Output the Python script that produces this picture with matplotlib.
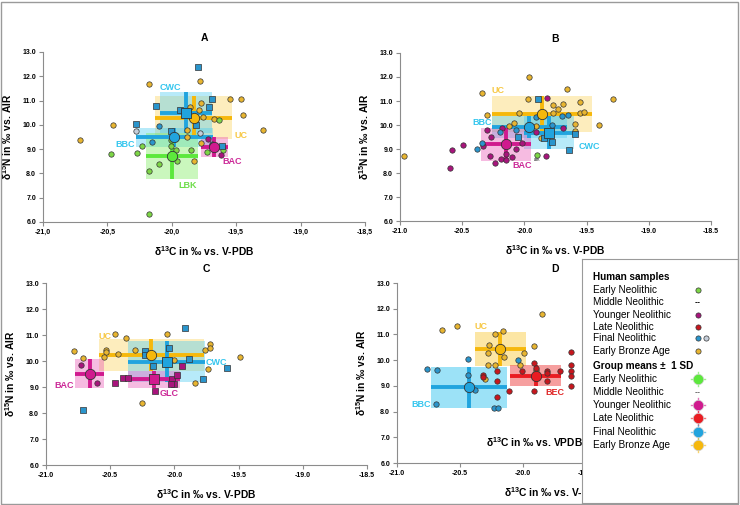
import numpy as np
import matplotlib
matplotlib.use("Agg")
import matplotlib.pyplot as plt
from matplotlib.patches import Rectangle
from matplotlib.ticker import FuncFormatter, MultipleLocator

plt.rcParams['font.family'] = ['Liberation Sans', 'DejaVu Sans']
plt.rcParams['mathtext.fontset'] = 'custom'
plt.rcParams['mathtext.rm'] = 'Liberation Sans:bold'
plt.rcParams['mathtext.it'] = 'Liberation Sans:bold'
plt.rcParams['mathtext.bf'] = 'Liberation Sans:bold'

# ---------------- panel A ----------------
A_UC_X = [-20.71, -20.46, -20.18, -19.78, -19.86, -19.77, -19.79, -19.76, -19.67, -19.55,
          -19.46, -19.45, -19.29, -19.88, -19.88, -19.77, -19.83]
A_UC_Y = [9.36, 10.00, 11.69, 11.80, 10.74, 10.88, 10.63, 10.33, 10.24, 11.06,
          11.06, 10.40, 9.77, 9.79, 9.51, 9.27, 8.50]
A_CWC_X = [-19.80, -20.12, -20.28, -19.94, -19.69, -19.71, -19.81, -20.01, -19.61]
A_CWC_Y = [12.37, 10.78, 10.03, 10.60, 11.08, 10.72, 9.99, 9.74, 9.14]
A_BBC_X = [-20.10, -20.15, -19.69]
A_BBC_Y = [9.96, 9.30, 9.21]
A_GREY_X = [-20.28, -19.78]
A_GREY_Y = [9.74, 9.68]
A_BAC_X = [-19.72, -19.62, -19.69]
A_BAC_Y = [9.40, 8.77, 9.17]
A_LBK_X = [-20.47, -20.27, -20.23, -20.18, -20.10, -20.01, -20.01, -19.97, -19.96,
           -19.85, -19.73, -19.63, -19.60, -20.18]
A_LBK_Y = [8.79, 8.85, 9.15, 8.08, 8.38, 9.12, 9.38, 8.98, 8.52,
           8.98, 8.87, 10.18, 8.96, 6.31]

A_GROUPS = ['uc', 'cwc', 'bbc', 'lbk', 'bac']
A_MX = [-19.83, -19.89, -19.98, -20.00, -19.67]
A_MY = [10.29, 10.50, 9.48, 8.73, 9.07]
A_SX = [0.30, 0.20, 0.30, 0.20, 0.105]
A_SY = [0.88, 0.85, 0.39, 0.95, 0.41]
A_LAB = ['CWC', 'UC', 'BBC', 'BAC', 'LBK']
A_LAB_X = [-20.01, -19.46, -20.36, -19.53, -19.88]
A_LAB_Y = [11.55, 9.58, 9.21, 8.51, 7.50]

# ---------------- panel B ----------------
B_UC_X = [-20.965, -20.34, -20.30, -19.96, -19.97, -20.04, -20.12, -20.08, -19.66, -19.77,
          -19.73, -19.69, -19.55, -19.77, -19.55, -19.52, -19.59, -19.59, -19.40, -19.29,
          -19.87, -19.91]
B_UC_Y = [8.72, 11.32, 10.41, 12.00, 11.10, 10.52, 9.97, 10.09, 11.52, 10.85,
          10.66, 10.87, 10.94, 10.51, 10.48, 10.55, 10.06, 9.76, 9.98, 11.07,
          9.44, 9.95]
B_BAC_X = [-20.60, -20.58, -20.49, -20.30, -20.27, -20.33, -20.28, -20.24, -20.19, -20.15,
           -20.10, -20.18, -20.07, -20.02, -19.91, -19.83, -19.82, -19.69, -20.15]
B_BAC_Y = [8.21, 8.96, 9.15, 9.79, 9.48, 9.12, 8.72, 8.40, 8.60, 8.56,
           8.68, 9.87, 8.98, 9.23, 9.70, 8.72, 11.14, 9.87, 8.80]
B_BBC_X = [-20.38, -20.34, -20.20, -20.07, -19.91, -19.70, -19.65, -19.78]
B_BBC_Y = [9.00, 9.23, 9.72, 9.79, 10.34, 10.37, 10.40, 10.00]
B_CWC_X = [-19.89, -20.05, -19.78, -19.64, -19.59, -19.84]
B_CWC_Y = [11.07, 9.51, 9.29, 8.94, 9.61, 9.44]
B_LBK_X = [-19.90]
B_LBK_Y = [8.73]

B_GROUPS = ['uc', 'bbc', 'cwc', 'bac']
B_MX = [-19.86, -19.96, -19.80, -20.15]
B_MY = [10.45, 9.92, 9.68, 9.20]
B_SX = [0.40, 0.30, 0.20, 0.20]
B_SY = [0.74, 0.47, 0.69, 0.68]
B_LAB = ['UC', 'BBC', 'CWC', 'BAC']
B_LAB_X = [-20.21, -20.34, -19.48, -20.02]
B_LAB_Y = [11.42, 10.09, 9.09, 8.31]

# ---------------- panel C ----------------
C_UC_X = [-20.78, -20.71, -20.53, -20.53, -20.55, -20.46, -20.44, -20.38, -20.31, -20.06,
          -20.00, -19.76, -19.72, -19.72, -19.74, -19.84, -19.49, -20.25]
C_UC_Y = [10.39, 10.11, 10.41, 10.34, 10.14, 11.05, 10.27, 10.89, 10.43, 11.05,
          10.05, 10.43, 10.66, 10.50, 9.71, 9.15, 10.15, 8.39]
C_CWC_X = [-20.71, -20.23, -20.23, -20.17, -20.04, -19.92, -19.89, -19.78, -19.59]
C_CWC_Y = [8.12, 10.37, 10.24, 9.82, 10.50, 11.27, 10.06, 9.30, 9.73]
C_GLC_X = [-20.46, -20.40, -20.36, -20.15, -20.02, -20.00, -19.98, -19.94, -20.03]
C_GLC_Y = [9.17, 9.34, 9.34, 8.85, 9.30, 9.11, 9.47, 9.79, 9.10]
C_BAC_X = [-20.73, -20.60]
C_BAC_Y = [9.86, 9.15]

C_GROUPS = ['uc', 'cwc', 'glc', 'bac']
C_MX = [-20.18, -20.06, -20.16, -20.66]
C_MY = [10.23, 9.98, 9.29, 9.51]
C_SX = [0.41, 0.30, 0.20, 0.115]
C_SY = [0.61, 0.80, 0.31, 0.55]
C_LAB = ['UC', 'BAC', 'GLC', 'CWC']
C_LAB_X = [-20.54, -20.86, -20.04, -19.67]
C_LAB_Y = [10.96, 9.05, 8.74, 9.96]

# ---------------- panel D ----------------
D_UC_X = [-20.64, -20.52, -20.22, -20.16, -20.27, -20.28, -20.15, -20.28, -20.22, -20.30,
          -19.99, -19.91, -19.85, -20.02, -19.90]
D_UC_Y = [11.18, 11.34, 11.01, 11.14, 10.59, 10.27, 10.14, 9.81, 9.81, 9.27,
          10.27, 10.56, 11.79, 9.81, 9.62]
D_BEC_X = [-20.32, -20.32, -20.21, -20.21, -20.21, -20.11, -20.01, -19.91, -19.91, -19.81,
           -19.81, -19.81, -19.71, -19.62, -19.62, -19.62, -19.62, -19.62, -19.90]
D_BEC_Y = [9.42, 9.33, 9.59, 9.19, 8.58, 8.80, 9.59, 9.90, 8.80, 9.59,
           9.49, 9.20, 9.59, 10.31, 9.81, 9.59, 9.38, 9.00, 9.70]
D_BBC_X = [-20.76, -20.68, -20.69, -20.44, -20.44, -20.38, -20.23, -20.20, -20.04]
D_BBC_Y = [9.66, 9.62, 8.29, 10.06, 9.41, 8.83, 8.14, 8.14, 10.01]

D_GROUPS = ['uc', 'bbc', 'bec']
D_MX = [-20.18, -20.43, -19.90]
D_MY = [10.43, 8.94, 9.40]
D_SX = [0.20, 0.30, 0.205]
D_SY = [0.66, 0.80, 0.405]
D_LAB = ['UC', 'BBC', 'BEC']
D_LAB_X = [-20.33, -20.81, -19.75]
D_LAB_Y = [11.31, 8.28, 8.73]

LEGEND_NAMES = ['Early Neolithic', 'Middle Neolithic', 'Younger Neolithic',
                'Late Neolithic', 'Final Neolithic', 'Early Bronze Age']

# colours: point fill, bar/mean colour, box fill, label colour
POINT_C = {'uc': '#E8B530', 'cwc': '#2A95CC', 'bbc': '#2A95CC', 'bac': '#A8147C',
           'glc': '#A8147C', 'lbk': '#7DD646', 'bec': '#C8161D', 'grey': '#C5CEDA'}
BAR_C = {'uc': '#F6B80C', 'cwc': '#21A4DE', 'bbc': '#21A4DE', 'bac': '#D01A8E',
         'glc': '#D01A8E', 'lbk': '#5CE83C', 'bec': '#EA1C22'}
BOX_C = {'uc': '#FAD25A', 'cwc': '#4CCBF2', 'bbc': '#4CCBF2', 'bac': '#EA55B5',
         'glc': '#EA55B5', 'lbk': '#7CEB5C', 'bec': '#F05050'}
LAB_C = {'UC': '#F7C845', 'CWC': '#35C6EE', 'BBC': '#35C6EE', 'BAC': '#CC2A98',
         'GLC': '#CC2A98', 'LBK': '#6EDD4A', 'BEC': '#E02828'}
MEAN_M = {'cwc': 's', 'glc': 's'}


def pts(ax, xs, ys, g, marker='o'):
    ax.scatter(xs, ys, s=15, marker=marker, c=POINT_C[g], edgecolors='#333333',
               linewidths=0.5, zorder=3)


def means(ax, groups, mx, my, sx, sy, alpha=0.4):
    for g, x, y, dx, dy in zip(groups, mx, my, sx, sy):
        ax.add_patch(Rectangle((x - dx, y - dy), 2 * dx, 2 * dy, facecolor=BOX_C[g],
                               alpha=alpha, edgecolor='none', zorder=1))
        ax.plot([x - dx, x + dx], [y, y], color=BAR_C[g], lw=2.8, zorder=2,
                solid_capstyle='butt')
        ax.plot([x, x], [y - dy, y + dy], color=BAR_C[g], lw=2.8, zorder=2,
                solid_capstyle='butt')
    for g, x, y in zip(groups, mx, my):
        ax.scatter([x], [y], s=55, marker=MEAN_M.get(g, 'o'), c=BAR_C[g],
                   edgecolors='#333333', linewidths=0.6, zorder=4)


def setup(ax, title, comma=False):
    ax.set_xlim(-21.0, -18.5)
    ax.set_ylim(6.0, 13.0)
    ax.xaxis.set_major_locator(MultipleLocator(0.5))
    ax.yaxis.set_major_locator(MultipleLocator(1.0))
    if comma:
        ax.xaxis.set_major_formatter(FuncFormatter(lambda v, p: f'{v:.1f}'.replace('.', ',')))
    else:
        ax.xaxis.set_major_formatter(FuncFormatter(lambda v, p: f'{v:.1f}'))
    ax.yaxis.set_major_formatter(FuncFormatter(lambda v, p: f'{v:.1f}'))
    for s in ['top', 'right']:
        ax.spines[s].set_visible(False)
    for s in ['left', 'bottom']:
        ax.spines[s].set_color('#8C8C8C')
        ax.spines[s].set_linewidth(0.8)
    ax.tick_params(colors='#8C8C8C', length=3, width=0.8, labelsize=5,
                   labelcolor='black', pad=2)
    for t in ax.get_xticklabels() + ax.get_yticklabels():
        t.set_fontweight('bold')
    ax.set_xlabel(r'δ$^{13}$C in ‰ vs. V-PDB', fontsize=7.4, fontweight='bold', labelpad=6)
    ax.set_ylabel(r'δ$^{15}$N in ‰ vs. AIR', fontsize=7.4, fontweight='bold', labelpad=6)
    ax.set_title(title, fontsize=7.5, fontweight='bold', pad=8)


def labels(ax, names, lx, ly):
    for n, x, y in zip(names, lx, ly):
        ax.text(x, y, n, color=LAB_C[n], fontsize=6.5, fontweight='bold',
                ha='center', va='center', zorder=5)


fig = plt.figure(figsize=(7.4, 5.05), dpi=100)
W, H = 740, 505


def axes_px(l, t, r, b):
    return fig.add_axes([l / W, 1 - b / H, (r - l) / W, (b - t) / H])


axA = axes_px(43, 52, 365, 222)
axB = axes_px(400, 53, 711, 221)
axC = axes_px(46, 283, 367, 465)
axD = axes_px(397, 283, 712, 463)

# A
setup(axA, 'A', comma=True)
means(axA, A_GROUPS, A_MX, A_MY, A_SX, A_SY)
pts(axA, A_UC_X, A_UC_Y, 'uc')
pts(axA, A_LBK_X, A_LBK_Y, 'lbk')
pts(axA, A_CWC_X, A_CWC_Y, 'cwc', 's')
pts(axA, A_BBC_X, A_BBC_Y, 'bbc')
pts(axA, A_GREY_X, A_GREY_Y, 'grey')
pts(axA, A_BAC_X, A_BAC_Y, 'bac')
labels(axA, A_LAB, A_LAB_X, A_LAB_Y)

# B
setup(axB, 'B')
means(axB, B_GROUPS, B_MX, B_MY, B_SX, B_SY)
pts(axB, B_UC_X, B_UC_Y, 'uc')
pts(axB, B_BAC_X, B_BAC_Y, 'bac')
pts(axB, B_BBC_X, B_BBC_Y, 'bbc')
pts(axB, B_CWC_X, B_CWC_Y, 'cwc', 's')
pts(axB, B_LBK_X, B_LBK_Y, 'lbk')
axB.text(B_LBK_X[0], B_LBK_Y[0] - 0.2, 'LBK', fontsize=2.5, ha='center', va='center')
labels(axB, B_LAB, B_LAB_X, B_LAB_Y)

# C
setup(axC, 'C')
means(axC, C_GROUPS, C_MX, C_MY, C_SX, C_SY)
pts(axC, C_UC_X, C_UC_Y, 'uc')
pts(axC, C_CWC_X, C_CWC_Y, 'cwc', 's')
pts(axC, C_GLC_X, C_GLC_Y, 'glc', 's')
pts(axC, C_BAC_X, C_BAC_Y, 'bac')
labels(axC, C_LAB, C_LAB_X, C_LAB_Y)

# D
setup(axD, 'D')
means(axD, D_GROUPS, D_MX, D_MY, D_SX, D_SY, alpha=0.55)
pts(axD, D_UC_X, D_UC_Y, 'uc')
pts(axD, D_BEC_X, D_BEC_Y, 'bec')
pts(axD, D_BBC_X, D_BBC_Y, 'bbc')
labels(axD, D_LAB, D_LAB_X, D_LAB_Y)
axD.text(-19.91, 6.82, r'δ$^{13}$C in ‰ vs. VPDB', fontsize=7.4, fontweight='bold',
         ha='center', va='center')

# legend box
lg = axes_px(582, 259, 738, 503)
lg.set_xlim(582, 738)
lg.set_ylim(503, 259)
lg.set_xticks([])
lg.set_yticks([])
for s in lg.spines.values():
    s.set_color('#9A9A9A')
    s.set_linewidth(0.8)

tx = 593
lg.text(tx, 277, 'Human samples', fontsize=7.2, fontweight='bold', va='center')
lg.text(tx, 366, 'Group means ±  1 SD', fontsize=7.2, fontweight='bold', va='center')
row1 = [290, 302.5, 315, 327, 338.5, 351]
row2 = [379, 392.5, 405, 418, 432, 445]
small_c = [POINT_C['lbk'], None, POINT_C['bac'], POINT_C['bec'], POINT_C['bbc'], POINT_C['uc']]
big_c = [BAR_C['lbk'], None, BAR_C['bac'], BAR_C['bec'], BAR_C['bbc'], BAR_C['uc']]
mx = 698
for name, y, c in zip(LEGEND_NAMES, row1, small_c):
    lg.text(tx, y, name, fontsize=7.2, va='center')
    if c is None:
        lg.text(mx, y, '--', fontsize=6.5, fontweight='bold', ha='center', va='center')
    else:
        lg.scatter([mx], [y], s=14, c=c, edgecolors='#333333', linewidths=0.5)
lg.scatter([705.5], [row1[4]], s=14, c=POINT_C['grey'], edgecolors='#333333', linewidths=0.5)
for name, y, c in zip(LEGEND_NAMES, row2, big_c):
    lg.text(tx, y, name, fontsize=7.2, va='center')
    if c is None:
        lg.text(mx, y, '--', fontsize=6.5, fontweight='bold', ha='center', va='center',
                color='#666666')
    else:
        lg.plot([mx - 7, mx + 7], [y, y], color=c, lw=1.0, alpha=0.6)
        lg.plot([mx, mx], [y - 7, y + 7], color=c, lw=1.0, alpha=0.6)
        lg.scatter([mx], [y], s=55, c=c, edgecolors='#cccccc', linewidths=0.5, zorder=3)

# outer frame
fig.patches.append(Rectangle((1 / W, 1 / H), 1 - 3 / W, 1 - 3 / H, transform=fig.transFigure,
                             fill=False, edgecolor='#9A9A9A', linewidth=1.0))

fig.savefig('out.png', dpi=100)
